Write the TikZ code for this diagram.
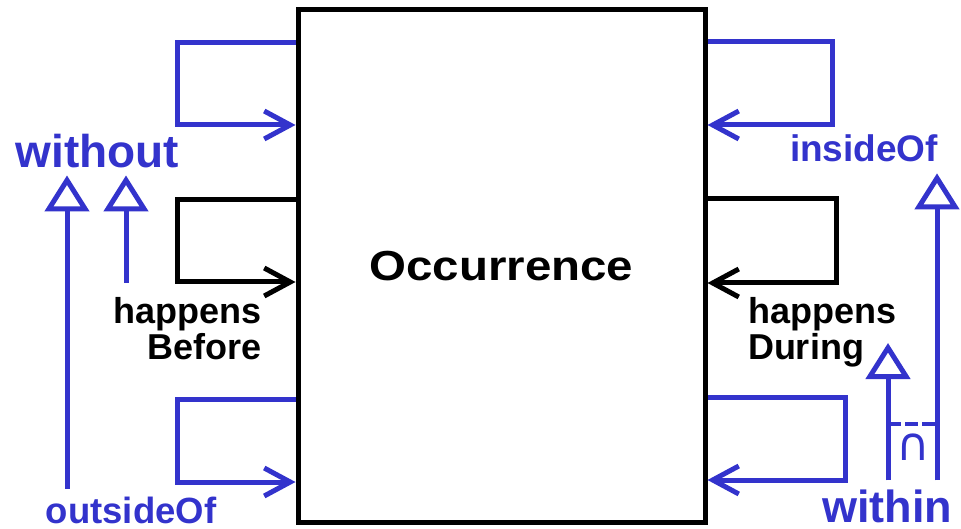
\documentclass[tikz,border=0pt]{standalone}
\usepackage{fontspec}
\setmainfont{Liberation Sans}
\newfontfamily\symfont{DejaVu Sans}
\usepackage{graphicx}
\usepackage{tikz}
\usetikzlibrary{arrows.meta}
\tikzset{barb/.style = {-{Straight Barb[length=26pt, width=28pt]}}}
\tikzset{isa/.style = {-{Triangle[open, length=36pt, width=44pt]}}}
\tikzset{lbl/.style = {inner sep = 0, outer sep = 0}}
\definecolor{cblue}{RGB}{51, 51, 204}

\begin{document}
\begin{tikzpicture}[x=1pt, y=-1pt, line width=5pt]
      \useasboundingbox (0, 0) rectangle (961, 529);

      \node (occ) [draw, minimum width = 407pt, minimum height = 512pt, inner sep = 0,
                   font = \bfseries\fontsize{42}{42}\selectfont] at (501.5, 266) {\scalebox{1.13}[1]{Occurrence}};

      % loops on the left
      \draw [cblue, barb] (occ.west |- 0, 43) -| (177, 125) -- (occ.west |- 0, 125);
      \draw [barb] (occ.west |- 0, 200) -| (177, 282) -- (occ.west |- 0, 282);
      \draw [cblue, barb] (occ.west |- 0, 399) -| (177, 482) -- (occ.west |- 0, 482);

      % loops on the right
      \draw [cblue, barb] (occ.east |- 0, 42) -| (832, 125) -- (occ.east |- 0, 125);
      \draw [barb] (occ.east |- 0, 199) -| (836, 283) -- (occ.east |- 0, 283);
      \draw [cblue, barb] (occ.east |- 0, 397) -| (845, 480) -- (occ.east |- 0, 480);

      \node (wo) [lbl, cblue, anchor = base, outer ysep = 7pt,
                  font = \bfseries\fontsize{46}{46}\selectfont] at (97.5, 168) {without};
      \node (io) [lbl, cblue, anchor = base, outer ysep = 11pt,
                  font = \bfseries\fontsize{37}{37}\selectfont] at (864, 162) {insideOf};
      \node (os) [lbl, cblue, anchor = base, outer ysep = 8pt,
                  font = \bfseries\fontsize{36.5}{36.5}\selectfont] at (131, 523) {outsideOf};
      \node (wi) [lbl, cblue, anchor = base west, outer ysep = 9pt,
                  font = \bfseries\fontsize{45}{45}\selectfont] at (822, 522) {within};
      \node (hb) [lbl, align = right, anchor = north east, outer ysep = 14pt,
                  font = \bfseries\fontsize{36}{36}\selectfont] at (262, 283) {happens\\Before};
      \node (hd) [lbl, align = left, anchor = north west,
                  font = \bfseries\fontsize{36}{36}\selectfont] at (748, 297) {happens\\During};

      \draw [cblue, isa] (os.north -| 67, 0) -- (wo.south -| 67, 0);
      \draw [cblue, isa] (hb.north -| 126, 0) -- (wo.south -| 126, 0);
      \draw [cblue, isa] (wi.north -| 937, 0) -- (io.south -| 937, 0);

      \coordinate (hd-tip) at (888, 343);
      \draw [cblue, isa] (wi.north -| hd-tip) -- (hd-tip);

      \draw [cblue, line width = 4pt, dash pattern = on 13pt off 4pt] (888, 424) -- (937, 424);
      \node (cap) [lbl, cblue, font = \symfont\fontsize{46}{46}\selectfont] at (913, 447) {∩};
    \end{tikzpicture}
\end{document}
